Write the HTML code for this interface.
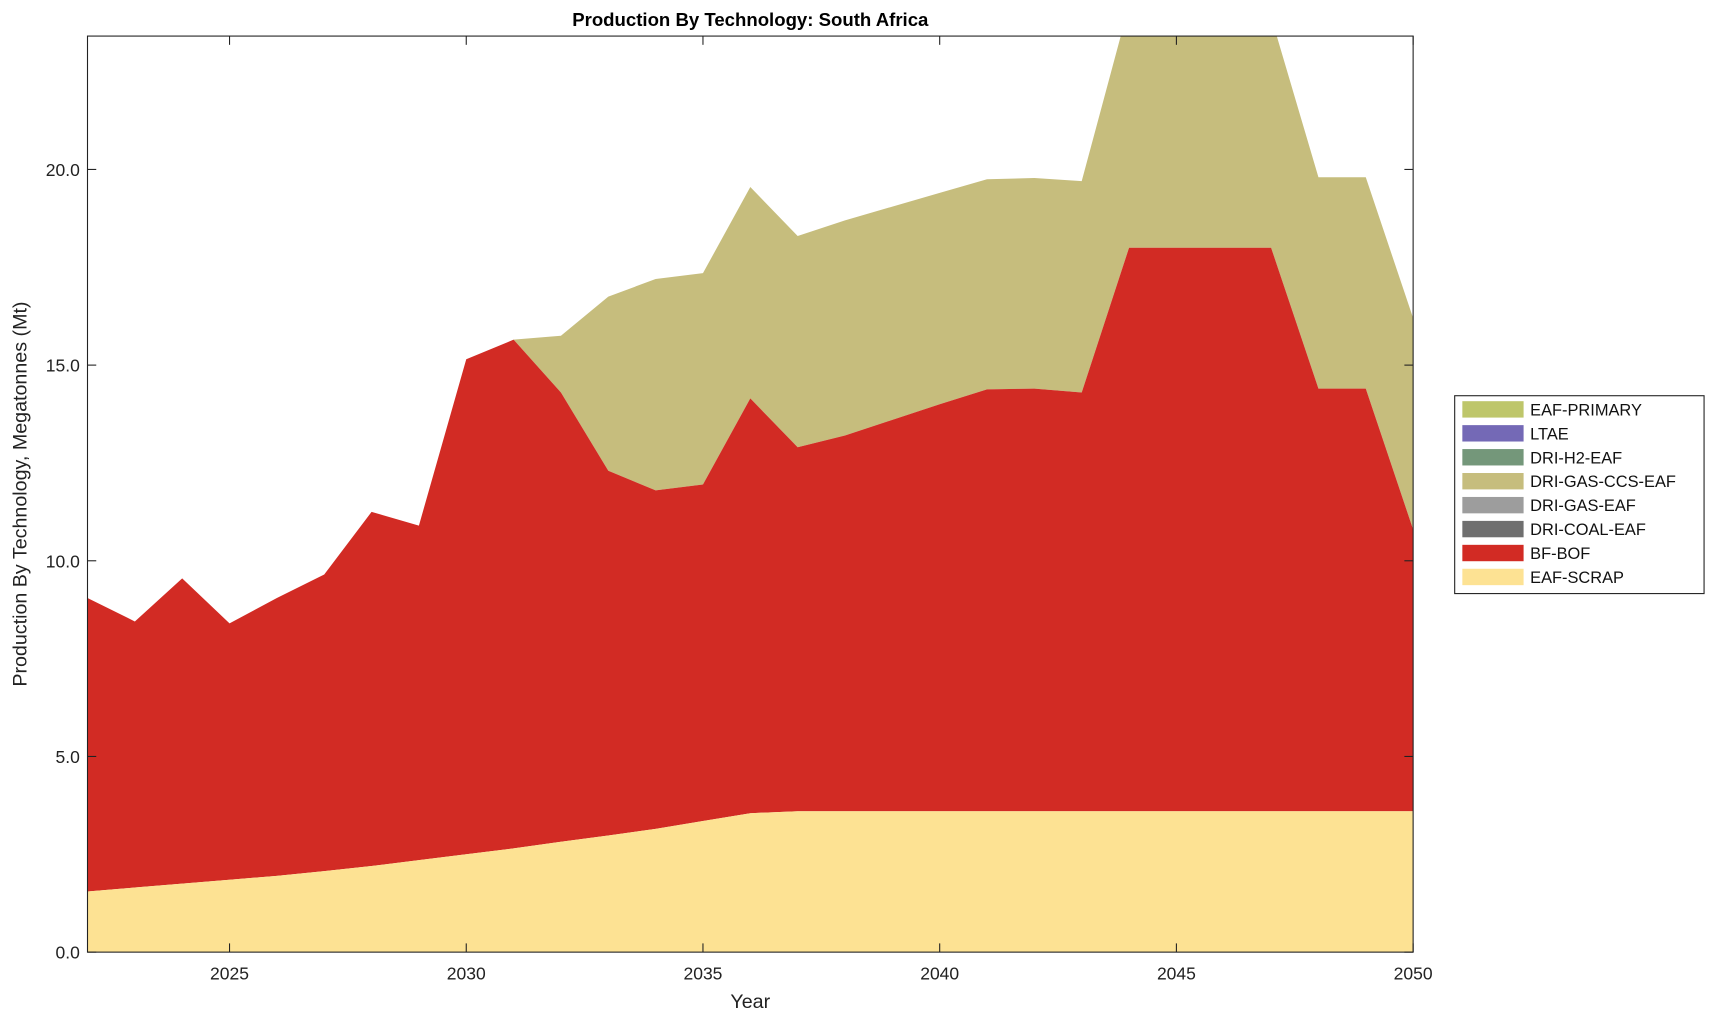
<!DOCTYPE html>
<html><head><meta charset="utf-8"><style>
html,body{margin:0;padding:0;background:#fff;}
svg{display:block;}
text{font-family:"Liberation Sans",Arial,sans-serif;}
</style></head><body>
<svg id="s" width="1715" height="1021" viewBox="0 0 1568 934" preserveAspectRatio="none" xmlns="http://www.w3.org/2000/svg">
<defs><clipPath id="c"><rect x="80" y="33" width="1212" height="838"/></clipPath></defs>
<g id="areas" clip-path="url(#c)"></g>
<rect x="80" y="33" width="1212" height="838" fill="none" stroke="#222" stroke-width="1"/>
<g id="ticks" stroke="#222" stroke-width="1"></g>
<g id="labels" font-size="16" fill="#222"></g>
<text x="686" y="24" font-size="17" font-weight="bold" text-anchor="middle">Production By Technology: South Africa</text>
<text x="686" y="922" font-size="18" text-anchor="middle" fill="#222">Year</text>
<text transform="translate(24,452) rotate(-90)" font-size="18" text-anchor="middle" fill="#222">Production By Technology, Megatonnes (Mt)</text>
<g id="legend"></g>
</svg>
<script>
var X=function(y){return 80+(y-2022)*1212/28;};
var Y=function(v){return 871-v*35.8;};
var yrs=[];for(var i=2022;i<=2050;i++)yrs.push(i);
var scrap=[1.55,1.65,1.75,1.85,1.95,2.07,2.2,2.35,2.5,2.65,2.82,2.98,3.15,3.35,3.55,3.6,3.6,3.6,3.6,3.6,3.6,3.6,3.6,3.6,3.6,3.6,3.6,3.6,3.6];
var bf=[9.05,8.45,9.55,8.4,9.05,9.65,11.25,10.9,15.15,15.65,14.3,12.3,11.8,11.95,14.15,12.9,13.2,13.6,14.0,14.38,14.4,14.3,18.0,18.0,18.0,18.0,14.4,14.4,10.8];
var ccs=[9.05,8.45,9.55,8.4,9.05,9.65,11.25,10.9,15.15,15.65,15.75,16.75,17.2,17.35,19.55,18.3,18.7,19.05,19.4,19.75,19.78,19.7,24.2,25,25,23.9,19.8,19.8,16.2];
function area(top,bot,col){var p=[];for(var i=0;i<yrs.length;i++)p.push(X(yrs[i])+','+Y(top[i]));for(var i=yrs.length-1;i>=0;i--)p.push(X(yrs[i])+','+Y(bot?bot[i]:0));return '<polygon points="'+p.join(' ')+'" fill="'+col+'"/>';}
document.getElementById('areas').innerHTML=area(ccs,bf,'#c6bd7d')+area(bf,scrap,'#d22b24')+area(scrap,null,'#fde293');
var t='',l='';
for(var y=2025;y<=2050;y+=5){var x=X(y);t+='<line x1="'+x+'" y1="871" x2="'+x+'" y2="863"/><line x1="'+x+'" y1="33" x2="'+x+'" y2="41"/>';l+='<text x="'+x+'" y="896" text-anchor="middle">'+y+'</text>';}
for(var v=0;v<=20;v+=5){var yy=Y(v);t+='<line x1="80" y1="'+yy+'" x2="88" y2="'+yy+'"/><line x1="1292" y1="'+yy+'" x2="1284" y2="'+yy+'"/>';l+='<text x="73" y="'+(yy+6)+'" text-anchor="end">'+v.toFixed(1)+'</text>';}
document.getElementById('ticks').innerHTML=t;document.getElementById('labels').innerHTML=l;
var items=[['EAF-PRIMARY','#bec66a'],['LTAE','#7469b6'],['DRI-H2-EAF','#74977a'],['DRI-GAS-CCS-EAF','#c6bd7d'],['DRI-GAS-EAF','#9d9d9d'],['DRI-COAL-EAF','#6f6f6f'],['BF-BOF','#d22b24'],['EAF-SCRAP','#fde293']];
var g='<rect x="1330" y="362" width="228" height="181" fill="#fff" stroke="#222"/>';
items.forEach(function(it,i){var yy=367+i*21.9;g+='<rect x="1337" y="'+yy+'" width="56" height="15" fill="'+it[1]+'"/><text x="1399" y="'+(yy+13)+'" font-size="15" fill="#111">'+it[0]+'</text>';});
document.getElementById('legend').innerHTML=g;
</script>
</body></html>
